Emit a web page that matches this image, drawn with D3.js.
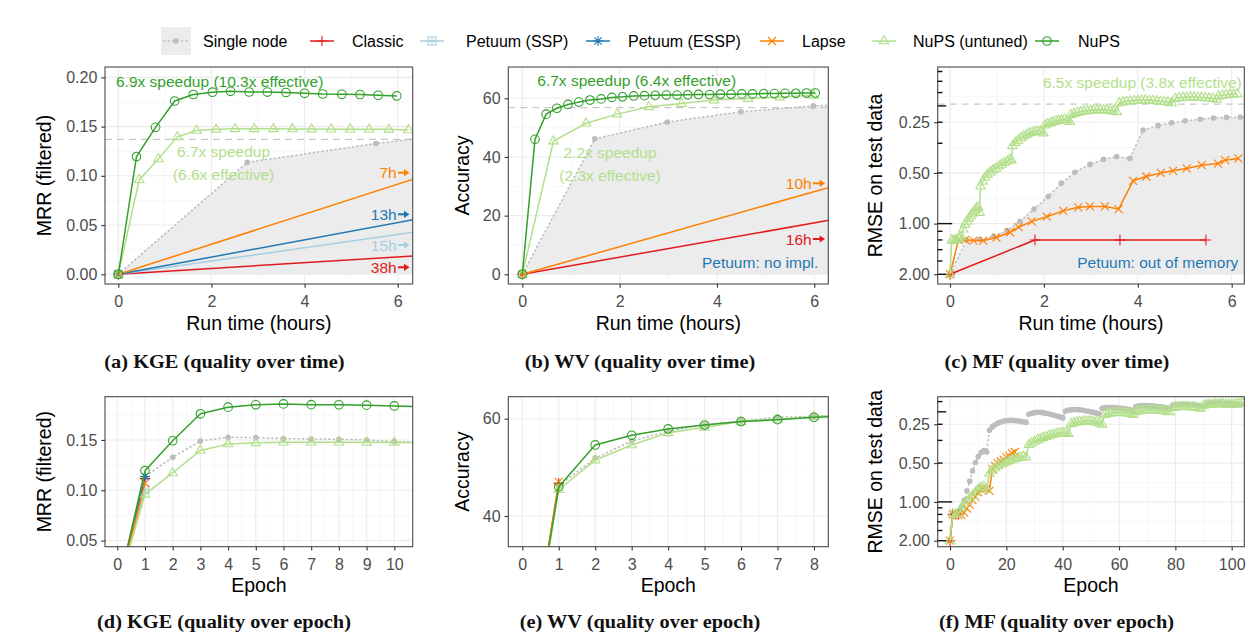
<!DOCTYPE html>
<html>
<head>
<meta charset="utf-8">
<script src="https://cdn.jsdelivr.net/npm/d3@7"></script>
<style>
  body { margin: 0; background: #fff; }
  svg { display: block; font-family: "Liberation Sans", Arial, Helvetica, sans-serif; }
</style>
</head>
<body>
<script>
// ---------------- KGE: MRR (filtered) ----------------
const kgeNupsHours    = [0, 0.39, 0.80, 1.21, 1.61, 2.02, 2.41, 2.81, 3.20, 3.60, 4.00, 4.39, 4.80, 5.19, 5.58, 5.98];
const kgeNups         = [0, 0.1195, 0.1492, 0.1760, 0.1826, 0.1849, 0.1858, 0.1851, 0.1850, 0.1846, 0.1838, 0.1831, 0.1828, 0.1826, 0.1818, 0.1811];
const kgeUntunedHours = [0, 0.45, 0.86, 1.27, 1.68, 2.10, 2.51, 2.92, 3.33, 3.74, 4.15, 4.57, 4.98, 5.39, 5.81, 6.23];
const kgeUntuned      = [0, 0.0960, 0.1172, 0.1396, 0.1460, 0.1472, 0.1477, 0.1477, 0.1477, 0.1476, 0.1475, 0.1474, 0.1474, 0.1473, 0.1472, 0.1466];
const kgeSingleHours  = [0, 2.77, 5.53, 8.30, 11.06, 13.83, 16.59, 19.36, 22.12, 24.89, 27.65, 30.42];
const kgeSingle       = [0, 0.1137, 0.1328, 0.1490, 0.1527, 0.1523, 0.1513, 0.1510, 0.1507, 0.1500, 0.1483, 0.1478];
const kgeClassicHours = [0, 38];  const kgeClassic = [0, 0.1116];
const kgeSspHours     = [0, 15];  const kgeSsp     = [0, 0.1010];
const kgeEsspHours    = [0, 13];  const kgeEssp    = [0, 0.1136];
const kgeLapseHours   = [0, 7];   const kgeLapse   = [0, 0.1068];
const kgeReference    = 0.137;

// ---------------- WV: accuracy ----------------
const wvNupsHours    = [0, 0.26, 0.49, 0.71, 0.94, 1.16, 1.39, 1.62, 1.84, 2.06, 2.29, 2.51, 2.73, 2.96, 3.18, 3.40, 3.62, 3.85, 4.07, 4.29, 4.51, 4.73, 4.96, 5.18, 5.40, 5.62, 5.84, 6.02];
const wvNups         = [0, 46.0, 54.6, 56.6, 57.9, 58.7, 59.4, 59.8, 60.3, 60.5, 60.8, 60.9, 61.0, 61.1, 61.1, 61.2, 61.3, 61.3, 61.4, 61.4, 61.5, 61.5, 61.6, 61.6, 61.7, 61.7, 61.8, 61.8];
const wvUntunedHours = [0, 0.64, 1.31, 1.95, 2.60, 3.27, 3.94, 4.64, 5.29, 5.98];
const wvUntuned      = [0, 45.4, 51.5, 54.6, 57.1, 58.2, 59.4, 59.9, 60.4, 61.0];
const wvSingleHours  = [0, 1.49, 2.98, 4.49, 5.98, 7.47, 8.96, 10.45, 11.94, 13.43];
const wvSingle       = [0, 46.2, 51.9, 55.4, 57.4, 58.8, 59.5, 60.3, 60.5, 60.8];
const wvClassicHours = [0, 16];  const wvClassic = [0, 46.7];
const wvLapseHours   = [0, 10];  const wvLapse   = [0, 47.0];
const wvReference    = 56.8;

// ---------------- MF: RMSE on test data ----------------
const mfSingle = [2.0,
  1.25, 1.24, 1.19, 1.10, 0.97, 0.82, 0.69, 0.575, 0.495, 0.445, 0.415, 0.40, 0.41,
  0.278, 0.262, 0.252, 0.245, 0.240, 0.236, 0.234, 0.233, 0.233, 0.234, 0.235, 0.237, 0.239, 0.242,
  0.209, 0.205, 0.203, 0.202, 0.202, 0.203, 0.205, 0.207, 0.210, 0.213, 0.216, 0.219, 0.223,
  0.197, 0.194, 0.193, 0.192, 0.192, 0.193, 0.194, 0.196, 0.198, 0.200, 0.202, 0.205, 0.208,
  0.188, 0.186, 0.185, 0.185, 0.185, 0.186, 0.187, 0.188, 0.189, 0.191, 0.193, 0.195,
  0.182, 0.180, 0.179, 0.179, 0.179, 0.180, 0.180, 0.181, 0.182, 0.183, 0.185, 0.186, 0.188,
  0.178, 0.176, 0.175, 0.175, 0.175, 0.175, 0.176, 0.177, 0.178, 0.179, 0.180, 0.182,
  0.174, 0.172, 0.171, 0.171, 0.171, 0.171, 0.172, 0.172, 0.173, 0.174, 0.175, 0.176, 0.177];
const mfSingleHours = [0, 0.35, 0.64, 0.93, 1.21, 1.49, 1.79, 2.09, 2.37, 2.66, 2.98, 3.27, 3.55, 3.83, 4.11, 4.43, 4.72, 5.01, 5.33, 5.61, 5.89, 6.18, 6.47];

const mfLapse      = [2.0, 1.25, 1.25, 1.26, 1.26, 1.21, 1.125, 1.05, 0.97, 0.91, 0.84, 0.80, 0.79, 0.79, 0.82, 0.557, 0.525, 0.50, 0.486, 0.47, 0.45, 0.44, 0.42, 0.41];
const mfLapseHours = [0, 0.18, 0.32, 0.50, 0.71, 0.99, 1.28, 1.46, 1.74, 2.06, 2.41, 2.73, 2.98, 3.30, 3.59, 3.90, 4.18, 4.49, 4.75, 5.04, 5.36, 5.71, 5.86, 6.14];
const mfClassic      = [2.0, 1.25, 1.25, 1.25];
const mfClassicHours = [0, 1.81, 3.62, 5.45];

// NuPS (untuned) as logged over wall-clock time
const mfUntunedRunHours = [0, 0.04, 0.08, 0.12, 0.16, 0.20, 0.24,
  0.28, 0.32, 0.36, 0.40, 0.44, 0.48, 0.52, 0.56, 0.60, 0.63,
  0.65, 0.70, 0.75, 0.80, 0.86, 0.92, 0.98, 1.04, 1.10, 1.16, 1.22, 1.27, 1.31,
  1.33, 1.39, 1.45, 1.51, 1.57, 1.63, 1.69, 1.75, 1.81, 1.87, 1.93, 1.99,
  2.02, 2.08, 2.14, 2.20, 2.26, 2.32, 2.38, 2.44, 2.50, 2.55,
  2.57, 2.64, 2.71, 2.78, 2.85, 2.92, 2.99, 3.06, 3.13, 3.20, 3.27, 3.34, 3.41, 3.48, 3.55,
  3.60, 3.68, 3.76, 3.84, 3.92, 4.00, 4.08, 4.16, 4.24, 4.32, 4.40, 4.48, 4.56, 4.64, 4.72,
  4.80, 4.88, 4.96, 5.04, 5.12, 5.20, 5.28, 5.36, 5.44, 5.52, 5.60, 5.68,
  5.72, 5.80, 5.88, 5.96, 6.04, 6.12];
const mfUntunedRunRmse = [2.0, 1.25, 1.26, 1.25, 1.24, 1.22, 1.19,
  1.08, 1.01, 0.97, 0.93, 0.90, 0.87, 0.84, 0.81, 0.80, 0.86,
  0.60, 0.56, 0.53, 0.51, 0.495, 0.48, 0.47, 0.455, 0.445, 0.435, 0.425, 0.415, 0.42,
  0.345, 0.33, 0.32, 0.31, 0.302, 0.296, 0.29, 0.287, 0.284, 0.282, 0.283, 0.29,
  0.26, 0.256, 0.252, 0.249, 0.246, 0.244, 0.242, 0.241, 0.243, 0.248,
  0.226, 0.222, 0.219, 0.217, 0.215, 0.214, 0.213, 0.212, 0.212, 0.211, 0.211, 0.212, 0.213, 0.215, 0.217,
  0.192, 0.190, 0.188, 0.187, 0.186, 0.186, 0.185, 0.185, 0.186, 0.186, 0.187, 0.188, 0.189, 0.190, 0.192,
  0.181, 0.179, 0.178, 0.178, 0.177, 0.177, 0.178, 0.178, 0.179, 0.180, 0.181, 0.183,
  0.175, 0.173, 0.172, 0.171, 0.171, 0.170];

// NuPS (untuned) per epoch
const mfUntunedEpoch = [2.0,
  1.24, 1.25, 1.22, 1.12, 1.05, 0.99, 0.94, 0.89, 0.84, 0.80, 0.77, 0.76, 0.80,
  0.60, 0.57, 0.545, 0.525, 0.51, 0.50, 0.49, 0.48, 0.47, 0.46, 0.455, 0.45, 0.445, 0.45,
  0.36, 0.35, 0.34, 0.33, 0.325, 0.318, 0.312, 0.307, 0.302, 0.298, 0.295, 0.292, 0.29, 0.29, 0.295,
  0.248, 0.244, 0.241, 0.239, 0.237, 0.236, 0.236, 0.236, 0.238, 0.241, 0.245, 0.25,
  0.21, 0.207, 0.205, 0.204, 0.203, 0.203, 0.203, 0.204, 0.205, 0.207, 0.21,
  0.2, 0.197, 0.195, 0.194, 0.193, 0.193, 0.193, 0.194, 0.195, 0.196, 0.197, 0.199, 0.2,
  0.186, 0.184, 0.183, 0.182, 0.182, 0.182, 0.183, 0.183, 0.184, 0.186, 0.188,
  0.178, 0.176, 0.175, 0.175, 0.174, 0.174, 0.174, 0.174, 0.175, 0.175, 0.176, 0.174, 0.173, 0.172, 0.171];
const mfReference = 0.195;

// ---------------- legend ----------------
const legendKeys   = ['single', 'classic', 'ssp', 'essp', 'lapse', 'untuned', 'nups'];
const legendLabels = ['Single node', 'Classic', 'Petuum (SSP)', 'Petuum (ESSP)', 'Lapse', 'NuPS (untuned)', 'NuPS'];

// ---------------- styles ----------------
const style = {
  single:  { color: '#bdbdbd', shape: 'dot', dash: '1,3.4', width: 1.6 },
  classic: { color: '#e31a1c', shape: 'plus' },
  ssp:     { color: '#a6cee3', shape: 'squareplus' },
  essp:    { color: '#1f78b4', shape: 'star' },
  lapse:   { color: '#ff7f00', shape: 'cross' },
  untuned: { color: '#b2df8a', shape: 'triangle' },
  nups:    { color: '#33a02c', shape: 'circle' }
};
const SANS = '"Liberation Sans", Arial, Helvetica, sans-serif';
const SERIF = '"Liberation Serif", "Times New Roman", serif';

const svg = d3.select('body').append('svg').attr('width', 1255).attr('height', 644);

const epochsOf = arr => arr.map((_, i) => i);
const zip = (xs, ys) => xs.map((x, i) => [x, ys[i]]).filter(d => d[1] !== undefined);

function markerPath(shape, x, y) {
  switch (shape) {
    case 'circle': { const r = 4.3; return `M${x - r},${y}a${r},${r} 0 1,0 ${2 * r},0a${r},${r} 0 1,0 ${-2 * r},0Z`; }
    case 'dot': { const r = 2.8; return `M${x - r},${y}a${r},${r} 0 1,0 ${2 * r},0a${r},${r} 0 1,0 ${-2 * r},0Z`; }
    case 'plus': { const s = 5.2; return `M${x - s},${y}H${x + s}M${x},${y - s}V${y + s}`; }
    case 'cross': { const s = 4; return `M${x - s},${y - s}L${x + s},${y + s}M${x - s},${y + s}L${x + s},${y - s}`; }
    case 'star': { const s = 5, t = 3.6; return `M${x - s},${y}H${x + s}M${x},${y - s}V${y + s}M${x - t},${y - t}L${x + t},${y + t}M${x - t},${y + t}L${x + t},${y - t}`; }
    case 'squareplus': { const s = 4; return `M${x - s},${y - s}h${2 * s}v${2 * s}h${-2 * s}ZM${x - s},${y}H${x + s}M${x},${y - s}V${y + s}`; }
    case 'triangle': return `M${x},${y - 5.3}L${x + 4.7},${y + 2.8}L${x - 4.7},${y + 2.8}Z`;
  }
}

function drawSeries(g, sx, sy, key, xs, ys) {
  const st = style[key];
  const pts = zip(xs, ys);
  g.append('path')
    .attr('d', d3.line().x(d => sx(d[0])).y(d => sy(d[1]))(pts))
    .attr('fill', 'none').attr('stroke', st.color)
    .attr('stroke-width', st.width || 1.5)
    .attr('stroke-dasharray', st.dash || null)
    .attr('stroke-linecap', st.dash ? 'round' : 'butt')
    .attr('stroke-linejoin', 'round');
  g.append('g').selectAll('path').data(pts).join('path')
    .attr('d', d => markerPath(st.shape, sx(d[0]), sy(d[1])))
    .attr('fill', st.shape === 'dot' ? st.color : 'none')
    .attr('stroke', st.shape === 'dot' ? 'none' : st.color)
    .attr('stroke-width', 1.1);
}

const fmt2 = d3.format('.2f');
const fmtInt = d3.format('d');

const panels = [
  { id: 'a', box: [105, 67, 412.7, 284], xDomain: [-0.286, 6.322], yDomain: [-0.00985, 0.2105],
    xTicks: [0, 2, 4, 6], xMinor: [1, 3, 5], yTicks: [0, 0.05, 0.10, 0.15, 0.20], yMinor: [0.025, 0.075, 0.125, 0.175], yFmt: fmt2,
    xTitle: 'Run time (hours)', yTitle: 'MRR (filtered)', yTitleX: 50.7, caption: '(a) KGE (quality over time)', capX: 224.5, capY: 368,
    ribbon: [kgeSingleHours, kgeSingle, 0], reference: kgeReference,
    series: [['single', kgeSingleHours, kgeSingle], ['classic', kgeClassicHours, kgeClassic], ['ssp', kgeSspHours, kgeSsp],
             ['essp', kgeEsspHours, kgeEssp], ['lapse', kgeLapseHours, kgeLapse], ['untuned', kgeUntunedHours, kgeUntuned], ['nups', kgeNupsHours, kgeNups]],
    notes: [
      { text: '6.9x speedup (10.3x effective)', x: 116, y: 87, anchor: 'start', key: 'nups' },
      { text: '6.7x speedup', x: 223.5, y: 157, anchor: 'middle', key: 'untuned' },
      { text: '(6.6x effective)', x: 223.5, y: 180, anchor: 'middle', key: 'untuned' }
    ],
    arrows: [
      { hours: kgeLapseHours[1], key: 'lapse', y: 172.7 },
      { hours: kgeEsspHours[1], key: 'essp', y: 214.3 },
      { hours: kgeSspHours[1], key: 'ssp', y: 245 },
      { hours: kgeClassicHours[1], key: 'classic', y: 267.3 }
    ], arrowTextX: 396.7 },
  { id: 'b', box: [508.3, 67, 828.3, 284], xDomain: [-0.288, 6.288], yDomain: [-3.31, 70.67],
    xTicks: [0, 2, 4, 6], xMinor: [1, 3, 5], yTicks: [0, 20, 40, 60], yMinor: [10, 30, 50, 70], yFmt: fmtInt,
    xTitle: 'Run time (hours)', yTitle: 'Accuracy', yTitleX: 469, caption: '(b) WV (quality over time)', capX: 640, capY: 368,
    ribbon: [wvSingleHours, wvSingle, 0], reference: wvReference,
    series: [['single', wvSingleHours, wvSingle], ['classic', wvClassicHours, wvClassic], ['lapse', wvLapseHours, wvLapse],
             ['untuned', wvUntunedHours, wvUntuned], ['nups', wvNupsHours, wvNups]],
    notes: [
      { text: '6.7x speedup (6.4x effective)', x: 537.3, y: 86, anchor: 'start', key: 'nups' },
      { text: '2.2x speedup', x: 610, y: 158, anchor: 'middle', key: 'untuned' },
      { text: '(2.3x effective)', x: 610, y: 181, anchor: 'middle', key: 'untuned' },
      { text: 'Petuum: no impl.', x: 818.3, y: 267.5, anchor: 'end', key: 'essp' }
    ],
    arrows: [
      { hours: wvLapseHours[1], key: 'lapse', y: 183.3 },
      { hours: wvClassicHours[1], key: 'classic', y: 239 }
    ], arrowTextX: 811.7 },
  { id: 'c', box: [937.7, 67, 1244.3, 284], xDomain: [-0.262, 6.268], yDomain: [2.283, 0.1175], log: true,
    xTicks: [0, 2, 4, 6], xMinor: [1, 3, 5], yTicks: [0.25, 0.5, 1, 2], yMinor: [Math.SQRT1_2 / 4, Math.SQRT1_2 / 2, Math.SQRT1_2, Math.SQRT2], yFmt: fmt2,
    xTitle: 'Run time (hours)', yTitle: 'RMSE on test data', yTitleX: 882, caption: '(c) MF (quality over time)', capX: 1057, capY: 368,
    ribbon: [mfSingleHours, mfSingle, 2.0], reference: mfReference,
    series: [['single', mfSingleHours, mfSingle], ['classic', mfClassicHours, mfClassic], ['lapse', mfLapseHours, mfLapse],
             ['untuned', mfUntunedRunHours, mfUntunedRunRmse]],
    notes: [
      { text: '6.5x speedup (3.8x effective)', x: 1241.7, y: 88, anchor: 'end', key: 'untuned' },
      { text: 'Petuum: out of memory', x: 1238.3, y: 267.5, anchor: 'end', key: 'essp' }
    ] },
  { id: 'd', box: [105, 396.7, 412.7, 546.7], xDomain: [-0.444, 10.664], yDomain: [0.0439, 0.1930],
    xTicks: d3.range(0, 11), xMinor: d3.range(0.5, 11, 1), yTicks: [0.05, 0.10, 0.15], yMinor: [0.075, 0.125, 0.175], yFmt: fmt2,
    xTitle: 'Epoch', yTitle: 'MRR (filtered)', yTitleX: 50.7, caption: '(d) KGE (quality over epoch)', capX: 224, capY: 628,
    series: [['single', epochsOf(kgeSingle), kgeSingle], ['classic', epochsOf(kgeClassic), kgeClassic], ['ssp', epochsOf(kgeSsp), kgeSsp],
             ['essp', epochsOf(kgeEssp), kgeEssp], ['lapse', epochsOf(kgeLapse), kgeLapse], ['untuned', epochsOf(kgeUntuned), kgeUntuned], ['nups', epochsOf(kgeNups), kgeNups]] },
  { id: 'e', box: [508.3, 396.7, 828.3, 546.7], xDomain: [-0.384, 8.393], yDomain: [33.69, 64.52],
    xTicks: d3.range(0, 9), xMinor: d3.range(0.5, 8.5, 1), yTicks: [40, 60], yMinor: [50], yFmt: fmtInt,
    xTitle: 'Epoch', yTitle: 'Accuracy', yTitleX: 469, caption: '(e) WV (quality over epoch)', capX: 640, capY: 628,
    series: [['single', epochsOf(wvSingle), wvSingle], ['classic', epochsOf(wvClassic), wvClassic], ['lapse', epochsOf(wvLapse), wvLapse],
             ['untuned', epochsOf(wvUntuned), wvUntuned], ['nups', epochsOf(wvNups), wvNups]] },
  { id: 'f', box: [937.7, 396.7, 1244.3, 546.7], xDomain: [-4.37, 104.47], yDomain: [2.226, 0.1527], log: true,
    xTicks: [0, 20, 40, 60, 80, 100], xMinor: [10, 30, 50, 70, 90], yTicks: [0.25, 0.5, 1, 2], yMinor: [Math.SQRT1_2 / 4, Math.SQRT1_2 / 2, Math.SQRT1_2, Math.SQRT2], yFmt: fmt2,
    xTitle: 'Epoch', yTitle: 'RMSE on test data', yTitleX: 882, caption: '(f) MF (quality over epoch)', capX: 1056.5, capY: 628,
    series: [['single', epochsOf(mfSingle), mfSingle], ['classic', epochsOf(mfClassic), mfClassic], ['lapse', epochsOf(mfLapse), mfLapse],
             ['untuned', epochsOf(mfUntunedEpoch), mfUntunedEpoch]] }
];

// reciprocal log-tick steps drawn inside the RMSE panels
const logTickSteps = [0.5, 0.6, 0.7, 0.8, 0.9, 1, 2, 3, 4, 5, 6, 7, 8, 9, 10];

function styleAxis(ax) {
  ax.attr('font-family', null).attr('font-size', null);
  ax.select('.domain').remove();
  ax.selectAll('.tick line').attr('stroke', '#333').attr('stroke-width', 1.1);
  ax.selectAll('.tick text').attr('fill', '#4d4d4d').style('font-family', SANS).style('font-size', '16px');
}

function drawPanel(p) {
  const [l, t, r, b] = p.box;
  const sx = d3.scaleLinear().domain(p.xDomain).range([l, r]);
  const sy = (p.log ? d3.scaleLog() : d3.scaleLinear()).domain(p.yDomain).range([b, t]);
  const g = svg.append('g');
  const inY = v => { const y = sy(v); return y >= t && y <= b; };
  const inX = v => { const x = sx(v); return x >= l && x <= r; };

  // grid
  const grid = g.append('g');
  p.yMinor.filter(inY).forEach(v => grid.append('line').attr('x1', l).attr('x2', r).attr('y1', sy(v)).attr('y2', sy(v)).attr('stroke', '#f3f3f3').attr('stroke-width', 0.7));
  p.xMinor.filter(inX).forEach(v => grid.append('line').attr('y1', t).attr('y2', b).attr('x1', sx(v)).attr('x2', sx(v)).attr('stroke', '#f3f3f3').attr('stroke-width', 0.7));
  p.yTicks.forEach(v => grid.append('line').attr('x1', l).attr('x2', r).attr('y1', sy(v)).attr('y2', sy(v)).attr('stroke', '#ebebeb').attr('stroke-width', 1.1));
  p.xTicks.forEach(v => grid.append('line').attr('y1', t).attr('y2', b).attr('x1', sx(v)).attr('x2', sx(v)).attr('stroke', '#ebebeb').attr('stroke-width', 1.1));

  svg.append('clipPath').attr('id', 'clip-' + p.id).append('rect')
    .attr('x', l).attr('y', t).attr('width', r - l).attr('height', b - t);
  const body = g.append('g').attr('clip-path', `url(#clip-${p.id})`);

  if (p.ribbon) {
    const [rx, ry, base] = p.ribbon;
    body.append('path').datum(zip(rx, ry))
      .attr('d', d3.area().x(d => sx(d[0])).y0(sy(base)).y1(d => sy(d[1])))
      .attr('fill', '#ececec');
  }
  if (p.reference !== undefined) {
    body.append('line').attr('x1', l).attr('x2', r).attr('y1', sy(p.reference)).attr('y2', sy(p.reference))
      .attr('stroke', '#c9c9c9').attr('stroke-width', 1.3).attr('stroke-dasharray', '7,5');
  }
  p.series.forEach(([key, xs, ys]) => drawSeries(body, sx, sy, key, xs, ys));

  // border
  g.append('rect').attr('x', l).attr('y', t).attr('width', r - l).attr('height', b - t)
    .attr('fill', 'none').attr('stroke', '#4a4a4a').attr('stroke-width', 1.1);

  // axes
  const xa = g.append('g').attr('transform', `translate(0,${b})`)
    .call(d3.axisBottom(sx).tickValues(p.xTicks).tickFormat(fmtInt).tickSize(3.7).tickSizeOuter(0).tickPadding(8));
  styleAxis(xa);
  const ya = g.append('g').attr('transform', `translate(${l},0)`)
    .call(d3.axisLeft(sy).tickValues(p.yTicks).tickFormat(p.yFmt).tickSize(3.7).tickSizeOuter(0).tickPadding(4));
  styleAxis(ya);

  if (p.log) {
    logTickSteps.forEach(w => {
      const v = 1 / w;
      if (!inY(v)) return;
      const len = (w === 1 || w === 10) ? 14.5 : (w === 5 || w === 0.5) ? 8.5 : 4.8;
      g.append('line').attr('x1', l).attr('x2', l + len).attr('y1', sy(v)).attr('y2', sy(v))
        .attr('stroke', '#111').attr('stroke-width', 1.4);
    });
  }

  // axis titles
  g.append('text').attr('x', (l + r) / 2).attr('y', b + 45.6).attr('text-anchor', 'middle')
    .style('font-family', SANS).style('font-size', '19.5px').attr('fill', '#000').text(p.xTitle);
  g.append('text').attr('transform', `translate(${p.yTitleX},${(t + b) / 2}) rotate(-90)`).attr('text-anchor', 'middle')
    .style('font-family', SANS).style('font-size', '19.5px').attr('fill', '#000').text(p.yTitle);

  // annotations
  (p.notes || []).forEach(n => {
    g.append('text').attr('x', n.x).attr('y', n.y).attr('text-anchor', n.anchor)
      .style('font-family', SANS).style('font-size', '15.5px').attr('fill', style[n.key].color).text(n.text);
  });
  (p.arrows || []).forEach(a => {
    const col = style[a.key].color;
    g.append('text').attr('x', p.arrowTextX).attr('y', a.y + 5.5).attr('text-anchor', 'end')
      .style('font-family', SANS).style('font-size', '15.5px').attr('fill', col).text(`${a.hours}h`);
    const x0 = p.arrowTextX + 1.2, x1 = r - 3.2;
    g.append('line').attr('x1', x0).attr('x2', x1 - 4).attr('y1', a.y).attr('y2', a.y).attr('stroke', col).attr('stroke-width', 2);
    g.append('path').attr('d', `M${x1},${a.y}L${x1 - 5.5},${a.y - 3.6}L${x1 - 5.5},${a.y + 3.6}Z`).attr('fill', col);
  });

  // caption
  const cap = svg.append('text').attr('x', p.capX).attr('y', p.capY).attr('text-anchor', 'middle')
    .style('font-family', SERIF).style('font-weight', 'bold').style('font-size', '18px').attr('fill', '#111').text(p.caption);
  const natural = cap.node().getComputedTextLength();
  cap.attr('textLength', natural * 1.13).attr('lengthAdjust', 'spacingAndGlyphs');
}

panels.forEach(drawPanel);

// legend
const legendCenters = [176, 322, 432, 598, 772, 884, 1047];
const legendTextX   = [203, 352, 466, 628, 802, 913, 1078];
const legendY = 41;
const lg = svg.append('g');
legendKeys.forEach((key, i) => {
  const cx = legendCenters[i], st = style[key];
  if (key === 'single') {
    lg.append('rect').attr('x', cx - 15).attr('y', legendY - 14).attr('width', 30).attr('height', 28).attr('fill', '#ececec');
  }
  lg.append('line').attr('x1', cx - 12).attr('x2', cx + 12).attr('y1', legendY).attr('y2', legendY)
    .attr('stroke', st.color).attr('stroke-width', st.width || 1.5)
    .attr('stroke-dasharray', st.dash || null).attr('stroke-linecap', st.dash ? 'round' : 'butt');
  lg.append('path').attr('d', markerPath(st.shape, cx, legendY))
    .attr('fill', st.shape === 'dot' ? st.color : 'none')
    .attr('stroke', st.shape === 'dot' ? 'none' : st.color).attr('stroke-width', 1.1);
  lg.append('text').attr('x', legendTextX[i]).attr('y', legendY + 5.7)
    .style('font-family', SANS).style('font-size', '16px').attr('fill', '#000').text(legendLabels[i]);
});
</script>
</body>
</html>
